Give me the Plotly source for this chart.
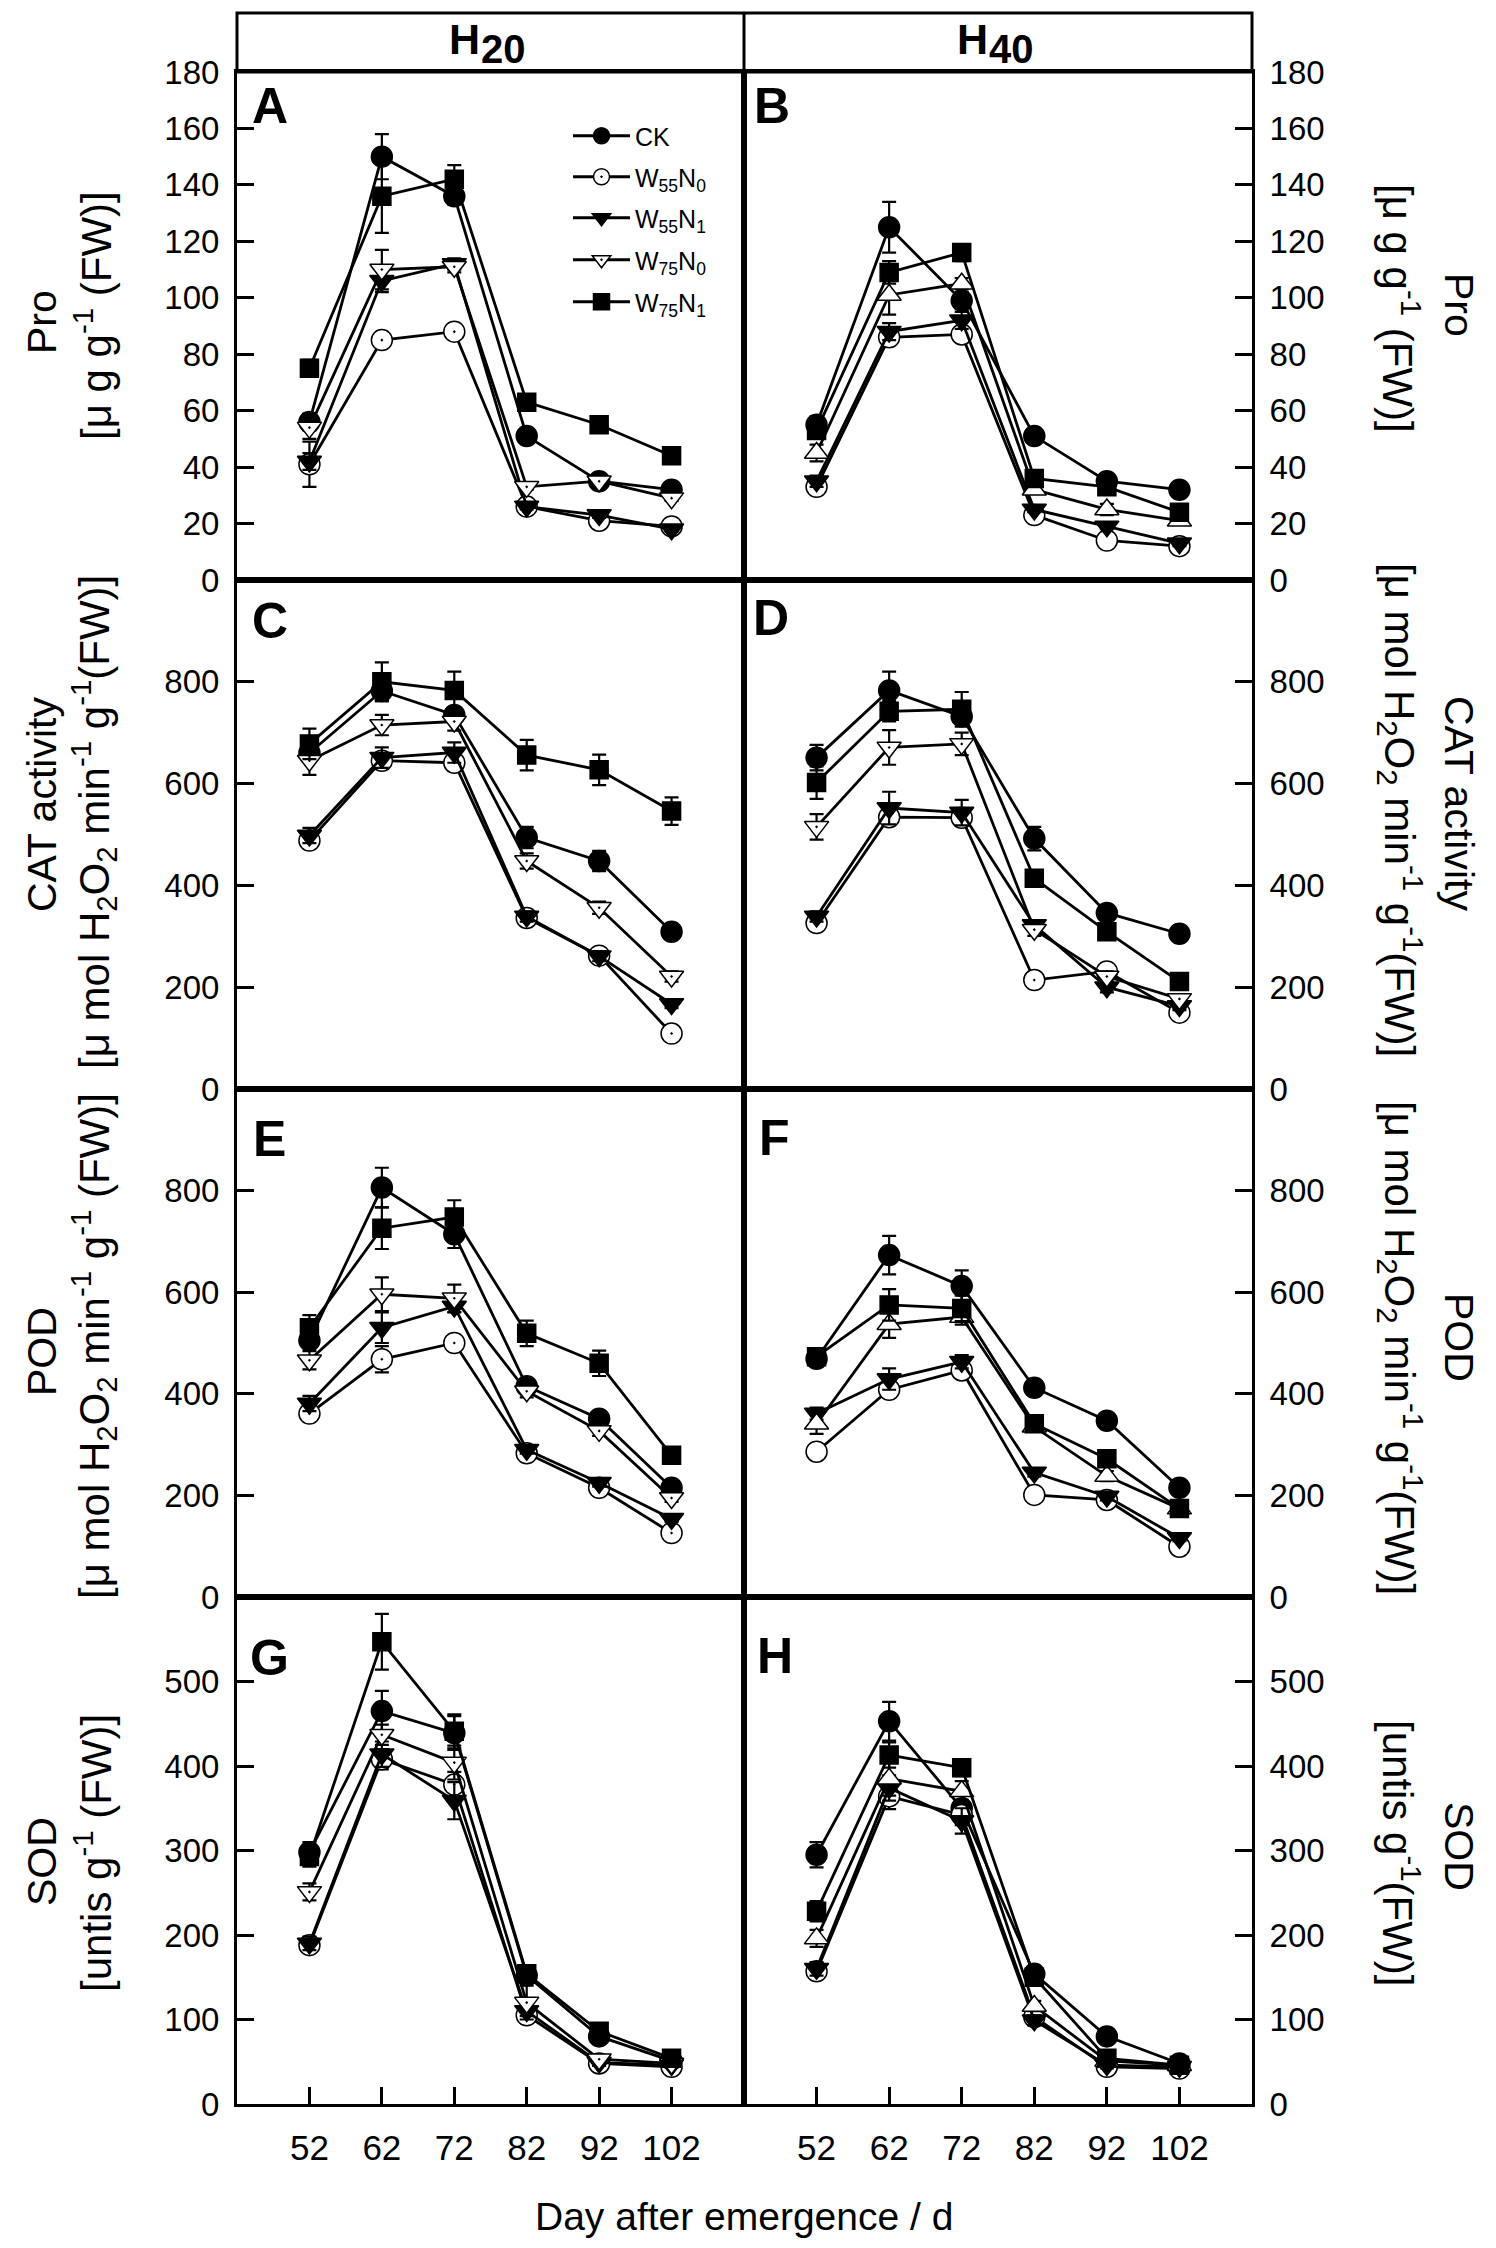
import plotly.graph_objects as go

# ---------------- data ----------------
days = [52, 62, 72, 82, 92, 102]
treatments = ["CK", "W55N0", "W55N1", "W75N0", "W75N1"]
legend_labels = ["CK", "W<sub>55</sub>N<sub>0</sub>", "W<sub>55</sub>N<sub>1</sub>",
                 "W<sub>75</sub>N<sub>0</sub>", "W<sub>75</sub>N<sub>1</sub>"]
column_titles = ["20", "40"]
panel_letters = ["A", "B", "C", "D", "E", "F", "G", "H"]

# Proline, H20
pro_h20_ck = [56, 150, 136, 51, 35, 32]
pro_h20_w55n0 = [41, 85, 88, 26, 21, 19]
pro_h20_w55n1 = [42, 106, 112, 26, 23, 18]
pro_h20_w75n0 = [54, 110, 111, 33, 35, 29]
pro_h20_w75n1 = [75, 136, 142, 63, 55, 44]
pro_h20_err_ck = [3, 8, 3, 2, 2, 2]
pro_h20_err_w55n0 = [8, 2, 2, 1, 1, 1]
pro_h20_err_w55n1 = [3, 4, 2, 1, 1, 1]
pro_h20_err_w75n0 = [4, 7, 2, 1, 1, 1]
pro_h20_err_w75n1 = [3, 13, 5, 2, 2, 2]

# Proline, H40
pro_h40_ck = [55, 125, 99, 51, 35, 32]
pro_h40_w55n0 = [33, 86, 87, 23, 14, 12]
pro_h40_w55n1 = [35, 88, 92, 25, 19, 13]
pro_h40_w75n0 = [45, 101, 105, 32, 25, 21]
pro_h40_w75n1 = [53, 109, 116, 36, 33, 24]
pro_h40_err_ck = [3, 9, 3, 2, 2, 2]
pro_h40_err_w55n0 = [2, 2, 2, 1, 1, 1]
pro_h40_err_w55n1 = [2, 3, 3, 1, 1, 1]
pro_h40_err_w75n0 = [3, 7, 2, 1, 2, 1]
pro_h40_err_w75n1 = [2, 4, 3, 2, 2, 2]

# CAT, H20
cat_h20_ck = [660, 782, 735, 494, 448, 309]
cat_h20_w55n0 = [488, 645, 641, 336, 262, 109]
cat_h20_w55n1 = [498, 651, 661, 339, 261, 167]
cat_h20_w75n0 = [645, 715, 722, 448, 356, 221]
cat_h20_w75n1 = [678, 800, 783, 656, 627, 546]
cat_h20_err_ck = [15, 20, 15, 21, 20, 10]
cat_h20_err_w55n0 = [15, 15, 15, 10, 10, 8]
cat_h20_err_w55n1 = [15, 20, 20, 10, 10, 8]
cat_h20_err_w75n0 = [28, 20, 18, 15, 12, 10]
cat_h20_err_w75n1 = [30, 38, 37, 30, 30, 27]

# CAT, H40
cat_h40_ck = [651, 783, 732, 492, 346, 305]
cat_h40_w55n0 = [326, 534, 533, 214, 231, 150]
cat_h40_w55n1 = [339, 552, 543, 322, 200, 163]
cat_h40_w75n0 = [515, 671, 678, 313, 221, 177]
cat_h40_w75n1 = [602, 742, 746, 414, 309, 211]
cat_h40_err_ck = [25, 37, 15, 23, 15, 10]
cat_h40_err_w55n0 = [10, 15, 15, 8, 8, 8]
cat_h40_err_w55n1 = [10, 32, 25, 10, 10, 8]
cat_h40_err_w75n0 = [25, 34, 22, 12, 10, 8]
cat_h40_err_w75n1 = [32, 20, 34, 12, 12, 10]

# POD, H20
pod_h20_ck = [505, 806, 714, 415, 351, 215]
pod_h20_w55n0 = [361, 468, 500, 283, 215, 126]
pod_h20_w55n1 = [381, 530, 572, 290, 225, 154]
pod_h20_w75n0 = [466, 596, 588, 405, 327, 195]
pod_h20_w75n1 = [530, 726, 748, 519, 460, 279]
pod_h20_err_ck = [15, 39, 27, 12, 10, 8]
pod_h20_err_w55n0 = [15, 26, 12, 8, 8, 6]
pod_h20_err_w55n1 = [15, 30, 12, 8, 8, 6]
pod_h20_err_w75n0 = [18, 33, 27, 12, 10, 8]
pod_h20_err_w75n1 = [25, 41, 33, 25, 25, 10]

# POD, H40
pod_h40_ck = [469, 673, 612, 412, 347, 215]
pod_h40_w55n0 = [286, 408, 446, 201, 191, 99]
pod_h40_w55n1 = [361, 429, 463, 245, 198, 116]
pod_h40_w75n0 = [341, 537, 551, 335, 238, 174]
pod_h40_w75n1 = [473, 575, 568, 341, 272, 174]
pod_h40_err_ck = [15, 38, 31, 12, 10, 8]
pod_h40_err_w55n0 = [10, 15, 12, 8, 8, 6]
pod_h40_err_w55n1 = [12, 21, 13, 8, 8, 6]
pod_h40_err_w75n0 = [20, 27, 15, 10, 10, 8]
pod_h40_err_w75n1 = [15, 31, 25, 12, 10, 8]

# SOD, H20
sod_h20_ck = [298, 465, 439, 152, 80, 51]
sod_h20_w55n0 = [188, 408, 378, 105, 48, 44]
sod_h20_w55n1 = [190, 414, 359, 110, 49, 46]
sod_h20_w75n0 = [251, 437, 404, 120, 53, 48]
sod_h20_w75n1 = [293, 547, 441, 154, 86, 54]
sod_h20_err_ck = [12, 24, 20, 8, 5, 4]
sod_h20_err_w55n0 = [8, 12, 15, 6, 4, 3]
sod_h20_err_w55n1 = [8, 15, 22, 6, 4, 3]
sod_h20_err_w75n0 = [10, 12, 20, 20, 4, 3]
sod_h20_err_w75n1 = [12, 33, 20, 8, 5, 4]

# SOD, H40
sod_h40_ck = [295, 453, 350, 154, 80, 48]
sod_h40_w55n0 = [157, 364, 342, 103, 44, 42]
sod_h40_w55n1 = [160, 374, 335, 99, 46, 44]
sod_h40_w75n0 = [196, 385, 370, 116, 51, 46]
sod_h40_w75n1 = [228, 413, 398, 150, 54, 46]
sod_h40_err_ck = [15, 23, 10, 8, 5, 4]
sod_h40_err_w55n0 = [8, 15, 12, 6, 4, 3]
sod_h40_err_w55n1 = [8, 15, 15, 6, 4, 3]
sod_h40_err_w75n0 = [10, 20, 12, 6, 4, 3]
sod_h40_err_w75n1 = [12, 15, 10, 8, 4, 3]

# y-axis tick values per row
pro_ticks = [0, 20, 40, 60, 80, 100, 120, 140, 160, 180]
cat_ticks = [0, 200, 400, 600, 800]
pod_ticks = [0, 200, 400, 600, 800]
sod_ticks = [0, 100, 200, 300, 400, 500]
row_ranges = [[0, 180], [0, 1000], [0, 1000], [0, 600]]

row_title1 = ["Pro", "CAT activity", "POD", "SOD"]
row_title2_left = [
    "[μ g g<sup>-1</sup> (FW)]",
    "[μ mol H<sub>2</sub>O<sub>2</sub> min<sup>-1</sup> g<sup>-1</sup>(FW)]",
    "[μ mol H<sub>2</sub>O<sub>2</sub> min<sup>-1</sup> g<sup>-1</sup> (FW)]",
    "[untis g<sup>-1</sup> (FW)]",
]
row_title2_right = [
    "[μ g g<sup>-1</sup> (FW)]",
    "[μ mol H<sub>2</sub>O<sub>2</sub> min<sup>-1</sup> g<sup>-1</sup>(FW)]",
    "[μ mol H<sub>2</sub>O<sub>2</sub> min<sup>-1</sup> g<sup>-1</sup>(FW)]",
    "[untis g<sup>-1</sup>(FW)]",
]
x_title = "Day after emergence / d"

panels = [
    ([pro_h20_ck, pro_h20_w55n0, pro_h20_w55n1, pro_h20_w75n0, pro_h20_w75n1],
     [pro_h20_err_ck, pro_h20_err_w55n0, pro_h20_err_w55n1, pro_h20_err_w75n0, pro_h20_err_w75n1]),
    ([pro_h40_ck, pro_h40_w55n0, pro_h40_w55n1, pro_h40_w75n0, pro_h40_w75n1],
     [pro_h40_err_ck, pro_h40_err_w55n0, pro_h40_err_w55n1, pro_h40_err_w75n0, pro_h40_err_w75n1]),
    ([cat_h20_ck, cat_h20_w55n0, cat_h20_w55n1, cat_h20_w75n0, cat_h20_w75n1],
     [cat_h20_err_ck, cat_h20_err_w55n0, cat_h20_err_w55n1, cat_h20_err_w75n0, cat_h20_err_w75n1]),
    ([cat_h40_ck, cat_h40_w55n0, cat_h40_w55n1, cat_h40_w75n0, cat_h40_w75n1],
     [cat_h40_err_ck, cat_h40_err_w55n0, cat_h40_err_w55n1, cat_h40_err_w75n0, cat_h40_err_w75n1]),
    ([pod_h20_ck, pod_h20_w55n0, pod_h20_w55n1, pod_h20_w75n0, pod_h20_w75n1],
     [pod_h20_err_ck, pod_h20_err_w55n0, pod_h20_err_w55n1, pod_h20_err_w75n0, pod_h20_err_w75n1]),
    ([pod_h40_ck, pod_h40_w55n0, pod_h40_w55n1, pod_h40_w75n0, pod_h40_w75n1],
     [pod_h40_err_ck, pod_h40_err_w55n0, pod_h40_err_w55n1, pod_h40_err_w75n0, pod_h40_err_w75n1]),
    ([sod_h20_ck, sod_h20_w55n0, sod_h20_w55n1, sod_h20_w75n0, sod_h20_w75n1],
     [sod_h20_err_ck, sod_h20_err_w55n0, sod_h20_err_w55n1, sod_h20_err_w75n0, sod_h20_err_w75n1]),
    ([sod_h40_ck, sod_h40_w55n0, sod_h40_w55n1, sod_h40_w75n0, sod_h40_w75n1],
     [sod_h40_err_ck, sod_h40_err_w55n0, sod_h40_err_w55n1, sod_h40_err_w75n0, sod_h40_err_w75n1]),
]
row_ticks = [pro_ticks, cat_ticks, pod_ticks, sod_ticks]

# ---------------- layout geometry (target pixels on the page) ----------------
W, H = 1496, 2248
OFF = 8  # page body margin offset
FONT = "Liberation Sans, Arial, Helvetica, sans-serif"


def fx(p):
    return (p - OFF) / W


def fy(p):
    return 1 - (p - OFF) / H


col_px = [(237, 744), (744, 1252)]
row_px = [(72, 580), (580, 1089), (1089, 1597), (1597, 2104)]

sym_std = ["circle", "circle-dot", "triangle-down", "triangle-down-dot", "square"]
sym_alt = ["circle", "circle", "triangle-down", "triangle-up", "square"]
fills = ["black", "white", "black", "white", "black"]
sizes = [21, 21, 21, 21, 18]

fig = go.Figure()

for i, (vals, errs) in enumerate(panels):
    n = i + 1
    xa = "x" if n == 1 else f"x{n}"
    ya = "y" if n == 1 else f"y{n}"
    syms = sym_alt if i in (1, 5, 7) else sym_std
    for t in range(5):
        fig.add_trace(go.Scatter(
            x=days, y=vals[t], xaxis=xa, yaxis=ya,
            mode="lines+markers",
            name=legend_labels[t],
            legend="legend" if t == 0 else f"legend{t + 1}",
            showlegend=(i == 0),
            line=dict(color="black", width=2.8),
            marker=dict(symbol=syms[t], size=sizes[t], color=fills[t],
                        line=dict(color="black", width=1.5)),
            error_y=dict(type="data", array=errs[t], visible=True,
                         color="black", thickness=2.2, width=7),
        ))

layout = dict(
    width=W, height=H,
    margin=dict(l=0, r=0, t=0, b=0, autoexpand=False),
    paper_bgcolor="white", plot_bgcolor="white",
    font=dict(family=FONT, color="black"),
)

for i in range(8):
    n = i + 1
    row, col = divmod(i, 2)
    xk = "xaxis" if n == 1 else f"xaxis{n}"
    yk = "yaxis" if n == 1 else f"yaxis{n}"
    bottom = row == 3
    layout[xk] = dict(
        domain=[fx(col_px[col][0]), fx(col_px[col][1])],
        range=[42, 112], anchor="y" if n == 1 else f"y{n}",
        showline=True, mirror=True, linecolor="black", linewidth=3,
        showgrid=False, zeroline=False, automargin=False,
        tickmode="array", tickvals=days,
        ticks="inside" if bottom else "", ticklen=17, tickwidth=2.5, tickcolor="black",
        showticklabels=bottom, ticklabelstandoff=11,
        tickfont=dict(size=35, family=FONT, color="black"),
    )
    layout[yk] = dict(
        domain=[fy(row_px[row][1]), fy(row_px[row][0])],
        range=row_ranges[row], anchor="x" if n == 1 else f"x{n}",
        side="left" if col == 0 else "right",
        showline=True, mirror=True, linecolor="black", linewidth=3,
        showgrid=False, zeroline=False, automargin=False,
        tickmode="array", tickvals=row_ticks[row],
        ticks="inside", ticklen=17, tickwidth=2.5, tickcolor="black",
        ticklabelstandoff=8,
        tickfont=dict(size=33, family=FONT, color="black"),
    )

# legends (one per treatment, stacked inside panel A)
leg_y = [136, 177, 218, 260, 302]
for t in range(5):
    key = "legend" if t == 0 else f"legend{t + 1}"
    layout[key] = dict(
        x=fx(568), y=fy(leg_y[t]), xanchor="left", yanchor="middle",
        bgcolor="rgba(0,0,0,0)", borderwidth=0, itemwidth=57,
        font=dict(size=25, family=FONT, color="black"),
        itemsizing="trace",
    )

annotations = []
# header "H20" / "H40"
col_centers = [492, 1000]
for c in range(2):
    annotations.append(dict(
        text="<b>H</b>", x=fx(col_centers[c] - 10), y=fy(39), xref="paper", yref="paper",
        xanchor="right", yanchor="middle", showarrow=False,
        font=dict(size=43, family=FONT, color="black")))
    annotations.append(dict(
        text="<b>" + column_titles[c] + "</b>", x=fx(col_centers[c] - 13), y=fy(49),
        xref="paper", yref="paper", xanchor="left", yanchor="middle", showarrow=False,
        font=dict(size=40, family=FONT, color="black")))

# panel letters
letter_pos = [(250, 76), (752, 76), (250, 591), (751, 588), (251, 1109), (757, 1108), (248, 1628), (755, 1626)]
for i, (lx, ly) in enumerate(letter_pos):
    annotations.append(dict(
        text="<b>" + panel_letters[i] + "</b>", x=fx(lx), y=fy(ly), xref="paper", yref="paper",
        xanchor="left", yanchor="top", showarrow=False,
        font=dict(size=50, family=FONT, color="black")))

# y titles
left_c1 = [322, 805, 1352, 1862]
left_c2 = [316, 822, 1346, 1853]
right_c1 = [305, 803, 1337, 1846]
right_c2 = [308, 810, 1348, 1853]
for r in range(4):
    annotations.append(dict(
        text=row_title1[r], x=fx(42), y=fy(left_c1[r]), xref="paper", yref="paper",
        xanchor="center", yanchor="middle", textangle=-90, showarrow=False,
        font=dict(size=41, family=FONT, color="black")))
    annotations.append(dict(
        text=row_title2_left[r], x=fx(93), y=fy(left_c2[r]), xref="paper", yref="paper",
        xanchor="center", yanchor="middle", textangle=-90, showarrow=False,
        font=dict(size=42, family=FONT, color="black")))
    annotations.append(dict(
        text=row_title1[r], x=fx(1459), y=fy(right_c1[r]), xref="paper", yref="paper",
        xanchor="center", yanchor="middle", textangle=90, showarrow=False,
        font=dict(size=41, family=FONT, color="black")))
    annotations.append(dict(
        text=row_title2_right[r], x=fx(1401), y=fy(right_c2[r]), xref="paper", yref="paper",
        xanchor="center", yanchor="middle", textangle=90, showarrow=False,
        font=dict(size=42, family=FONT, color="black")))

# x title
annotations.append(dict(
    text=x_title, x=fx(744), y=fy(2216), xref="paper", yref="paper",
    xanchor="center", yanchor="middle", showarrow=False,
    font=dict(size=39, family=FONT, color="black")))

layout["annotations"] = annotations
layout["shapes"] = [
    dict(type="rect", xref="paper", yref="paper",
         x0=fx(237), x1=fx(1252), y0=fy(72), y1=fy(13),
         line=dict(color="black", width=3)),
    dict(type="line", xref="paper", yref="paper",
         x0=fx(744), x1=fx(744), y0=fy(72), y1=fy(13),
         line=dict(color="black", width=3)),
]

fig.update_layout(**layout)
fig.write_html("out.html")
